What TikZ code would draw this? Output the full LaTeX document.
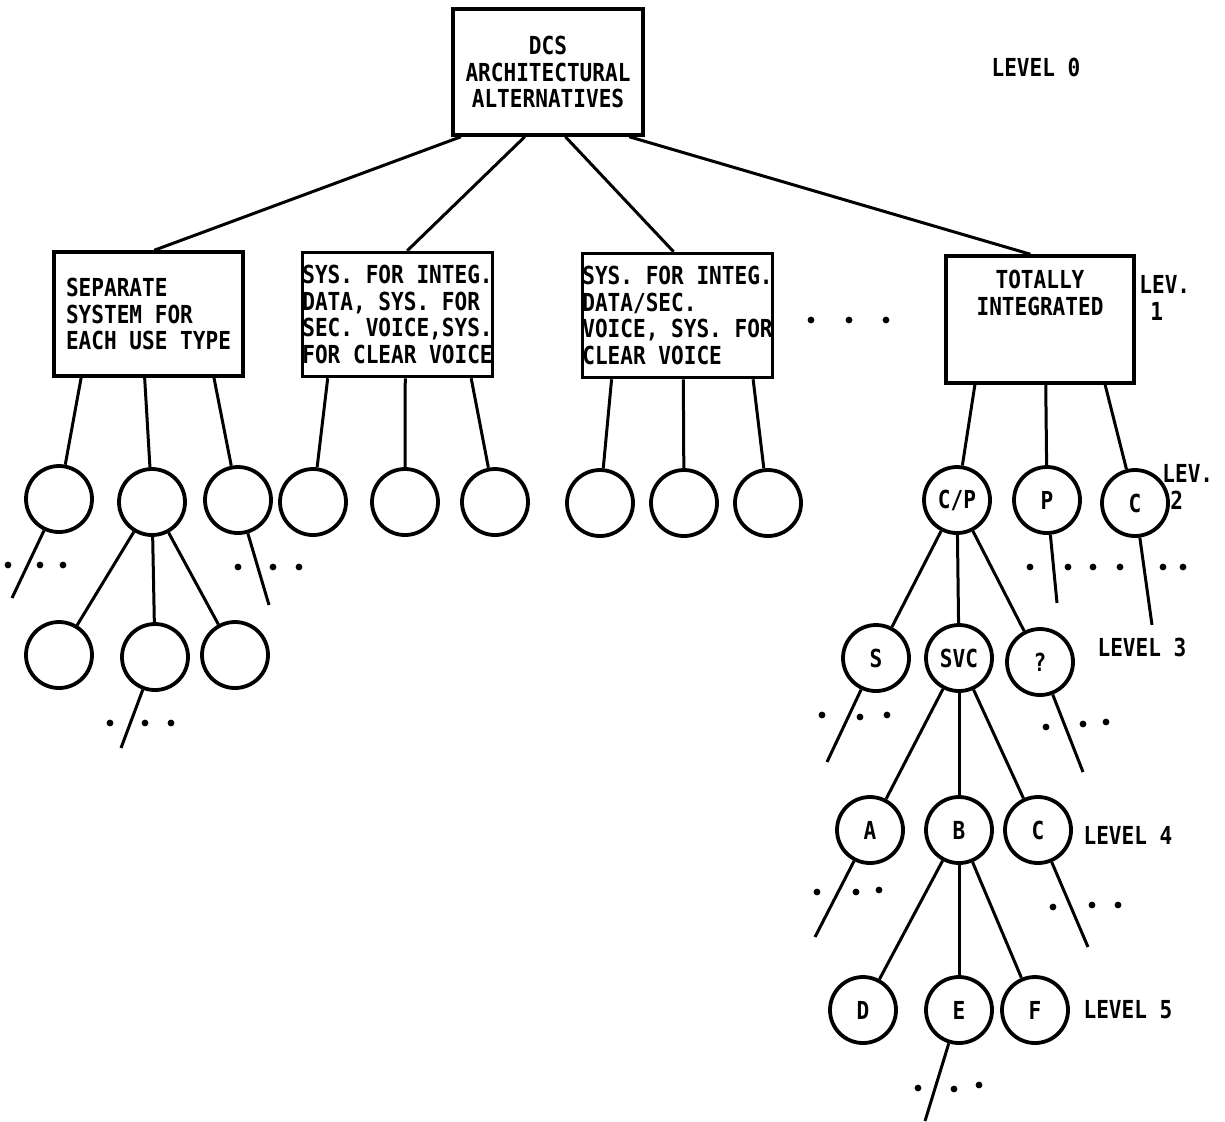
\documentclass[tikz,border=0pt]{standalone}
\usepackage{fontspec}
\setmainfont{DejaVu Sans Mono}[FakeStretch=0.85]
\usetikzlibrary{positioning,calc}
\tikzset{
  altbox/.style={draw,line width=1.75pt,minimum width=94.5pt,minimum height=62pt,inner sep=0pt,align=left},
  elem/.style={draw,circle,line width=1.9pt,minimum size=33pt,inner sep=0pt},
  branch/.style={line width=1.5pt},
  levlabel/.style={inner sep=0pt,align=left},
}

\begin{document}
\begin{tikzpicture}[x=0.5pt,y=-0.5pt,every node/.style={font=\fontsize{12.4}{13.25}\selectfont\bfseries}]
  \useasboundingbox (0,0) rectangle (1225,1121);
  % level 0
  \node[altbox,align=center,minimum width=95pt,minimum height=63pt] (root) at (548,72) {DCS\\ARCHITECTURAL\\ALTERNATIVES};
  \node[levlabel] (lev0) at (1036,67) {LEVEL 0};
  % level 1
  \node[altbox] (b1) at (148.5,314) {SEPARATE\\SYSTEM FOR\\EACH USE TYPE};
  \node[altbox,minimum width=95pt] (b2) at (397.5,314.5) {SYS. FOR INTEG.\\DATA, SYS. FOR\\SEC. VOICE,SYS.\\FOR CLEAR VOICE};
  \node[altbox] (b3) at (677.5,315.5) {SYS. FOR INTEG.\\DATA/SEC.\\VOICE, SYS. FOR\\CLEAR VOICE};
  \node[altbox,align=center,minimum width=94pt,minimum height=63.5pt] (b4) at (1040,319.5) {TOTALLY\\INTEGRATED\\~\\~};
  \node[levlabel,anchor=west] (lev1) at (1139,298) {LEV.\\\hspace*{5.5pt}1};
  % level 2
  \node[elem] (c11) at (59,499) {};
  \node[elem] (c12) at (152,502) {};
  \node[elem] (c13) at (238,500) {};
  \node[elem] (c21) at (313,502) {};
  \node[elem] (c22) at (405,502) {};
  \node[elem] (c23) at (495,502) {};
  \node[elem] (c31) at (600,503) {};
  \node[elem] (c32) at (684,503) {};
  \node[elem] (c33) at (768,503) {};
  \node[elem] (cp) at (957,500) {C/P};
  \node[elem] (p) at (1047,500) {P};
  \node[elem] (c) at (1135,503) {C};
  \node[levlabel,anchor=west] (lev2) at (1162,487) {LEV.\\\hspace*{4pt}2};
  % level 3
  \node[elem] (l31) at (59,655) {};
  \node[elem] (l32) at (155,657) {};
  \node[elem] (l33) at (235,655) {};
  \node[elem] (s) at (876,658) {S};
  \node[elem] (svc) at (959,658) {SVC};
  \node[elem] (q) at (1040,662) {?};
  \node[levlabel] (lev3) at (1142,647) {LEVEL 3};
  % level 4
  \node[elem] (a) at (870,830) {A};
  \node[elem] (b) at (959,830) {B};
  \node[elem] (cc) at (1038,830) {C};
  \node[levlabel] (lev4) at (1128,835) {LEVEL 4};
  % level 5
  \node[elem] (d) at (863,1010) {D};
  \node[elem] (e) at (959,1010) {E};
  \node[elem] (f) at (1035,1010) {F};
  \node[levlabel] (lev5) at (1128,1010) {LEVEL 5};
  % loose ends
  \coordinate (t11) at (12,598);
  \coordinate (t13) at (269,605);
  \coordinate (t32) at (121,748);
  \coordinate (tp) at (1057,603);
  \coordinate (tc) at (1152,625);
  \coordinate (ts) at (827,762);
  \coordinate (tq) at (1083,772);
  \coordinate (ta) at (815,937);
  \coordinate (tcc) at (1088,947);
  \coordinate (te) at (925,1121);

  \foreach \bx/\s/\t in {b1/.05/.53, b2/.38/.55, b3/.59/.48, b4/.92/.45}
    \draw[branch] ($(root.south west)!\s!(root.south east)$) -- ($(\bx.north west)!\t!(\bx.north east)$);
  \foreach \bx/\s/\n in {b1/.15/c11, b1/.48/c12, b1/.84/c13, b2/.14/c21, b2/.54/c22, b2/.88/c23,
                         b3/.16/c31, b3/.53/c32, b3/.89/c33, b4/.16/cp, b4/.53/p, b4/.84/c}
    \draw[branch] ($(\bx.south west)!\s!(\bx.south east)$) -- (\n);
  \foreach \u/\v in {c12/l31, c12/l32, c12/l33, cp/s, cp/svc, cp/q, svc/a, svc/b, svc/cc, b/d, b/e, b/f,
                     c11/t11, c13/t13, l32/t32, p/tp, c/tc, s/ts, q/tq, a/ta, cc/tcc, e/te}
    \draw[branch] (\u) -- (\v);

  % dots
  \foreach \x/\y in {811/320, 849/320, 886/320,
                     8/565, 40/565, 63/565, 238/567, 273/567, 299/567,
                     1030/567, 1068/567, 1093/567, 1120/567, 1163/567, 1183/567,
                     110/723, 145/723, 171/723, 822/715, 860/717, 887/715,
                     1046/727, 1083/724, 1106/722,
                     817/892, 856/892, 879/890, 1053/907, 1092/905, 1118/905,
                     918/1088, 954/1089, 979/1085}
    \fill (\x,\y) circle[radius=1.7pt];
\end{tikzpicture}
\end{document}
